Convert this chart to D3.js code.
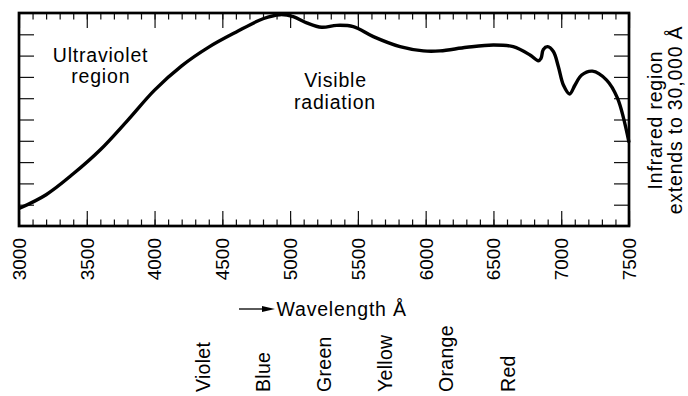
<!DOCTYPE html>
<html>
<head>
<meta charset="utf-8">
<script src="https://cdn.jsdelivr.net/npm/d3@7"></script>
<style>
  html, body { margin: 0; padding: 0; background: #fff; }
  svg { display: block; font-family: "Liberation Sans", Arial, Helvetica, sans-serif; }
</style>
</head>
<body>
<svg id="chart" width="688" height="396"></svg>
<script>
// ---- data ----
const wavelengths = [3000, 3200, 3400, 3600, 3800, 4000, 4200, 4400, 4600, 4800, 4925, 5023, 5122, 5233, 5344, 5466, 5614, 5811, 5983, 6106, 6303, 6499, 6646, 6770, 6831, 6851, 6868, 6900, 6942, 6979, 7016, 7062, 7102, 7151, 7230, 7335, 7415, 7500];
const intensity   = [0.82, 1.47, 2.45, 3.58, 4.95, 6.38, 7.52, 8.40, 9.10, 9.73, 9.92, 9.83, 9.54, 9.33, 9.42, 9.36, 8.89, 8.42, 8.22, 8.22, 8.39, 8.50, 8.42, 8.03, 7.76, 7.87, 8.29, 8.42, 8.19, 7.48, 6.62, 6.20, 6.62, 7.09, 7.27, 6.85, 6.00, 3.92];
const xTicks = [3000, 3500, 4000, 4500, 5000, 5500, 6000, 6500, 7000, 7500];
const xMinor = d3.range(3000, 7501, 100);
const yTicks = [1, 2, 3, 4, 5, 6, 7, 8, 9];
const colorNames = ["Violet", "Blue", "Green", "Yellow", "Orange", "Red"];
const colorPos   = [4357, 4800, 5250, 5700, 6150, 6606];

// ---- layout ----
const svg = d3.select("#chart");
const L = 19, R = 629, T = 13, B = 226;
const x = d3.scaleLinear().domain([3000, 7500]).range([L, R]);
const y = d3.scaleLinear().domain([0, 10]).range([B, T]);

const tickColor = "#111";
// bottom & top ticks (inward)
svg.append("g").attr("transform", `translate(0,${B})`)
  .call(d3.axisBottom(x).tickValues(xMinor).tickSize(-6.5).tickFormat(""))
  .call(g => g.select(".domain").remove());
svg.append("g").attr("transform", `translate(0,${B})`)
  .call(d3.axisBottom(x).tickValues(xTicks).tickSize(-15).tickFormat(""))
  .call(g => g.select(".domain").remove());
svg.append("g").attr("transform", `translate(0,${T})`)
  .call(d3.axisTop(x).tickValues(xMinor).tickSize(-6.5).tickFormat(""))
  .call(g => g.select(".domain").remove());
svg.append("g").attr("transform", `translate(0,${T})`)
  .call(d3.axisTop(x).tickValues(xTicks).tickSize(-15).tickFormat(""))
  .call(g => g.select(".domain").remove());
// left & right ticks
svg.append("g").attr("transform", `translate(${L},0)`)
  .call(d3.axisLeft(y).tickValues(yTicks).tickSize(-15).tickFormat(""))
  .call(g => g.select(".domain").remove());
svg.append("g").attr("transform", `translate(${R},0)`)
  .call(d3.axisRight(y).tickValues(yTicks).tickSize(-15).tickFormat(""))
  .call(g => g.select(".domain").remove());
svg.selectAll(".tick line").attr("stroke", tickColor).attr("stroke-width", 1.2);

// curve
const pts = wavelengths.map((w, i) => [w, intensity[i]]);
svg.append("path")
  .datum(pts)
  .attr("fill", "none")
  .attr("stroke", "#000")
  .attr("stroke-width", 3.4)
  .attr("stroke-linejoin", "round")
  .attr("d", d3.line().x(d => x(d[0])).y(d => y(d[1])).curve(d3.curveCatmullRom.alpha(0.5)));

// frame
svg.append("rect")
  .attr("x", L).attr("y", T).attr("width", R - L).attr("height", B - T)
  .attr("fill", "none").attr("stroke", "#000").attr("stroke-width", 2.7);

// x tick labels (rotated)
svg.append("g").selectAll("text").data(xTicks).join("text")
  .attr("transform", d => `translate(${x(d)},238) rotate(-90)`)
  .attr("text-anchor", "end")
  .attr("dy", "0.36em")
  .attr("font-size", 19)
  .attr("fill", "#000")
  .text(d => d);

const lblSize = 19.5, ls = 0.8;
function label(txt, cx, by, anchor) {
  svg.append("text").attr("x", cx).attr("y", by)
    .attr("text-anchor", anchor || "middle")
    .attr("font-size", lblSize).attr("letter-spacing", ls)
    .attr("fill", "#000").text(txt);
}
label("Ultraviolet", 100.5, 62.3);
label("region", 100.8, 82.5);
label("Visible", 335.5, 86.7);
label("radiation", 335, 108.5);
label("Wavelength Å", 276.5, 316, "start");

// arrow
svg.append("line").attr("x1", 239).attr("y1", 309).attr("x2", 266).attr("y2", 309)
  .attr("stroke", "#000").attr("stroke-width", 1.3);
svg.append("path").attr("d", "M262,306 L275,309 L262,312 Z").attr("fill", "#000");

// right rotated labels
[["Infrared region", 661.5], ["extends to 30,000 Å", 682]].forEach(([t, bx]) => {
  svg.append("text")
    .attr("transform", `translate(${bx},120) rotate(-90)`)
    .attr("text-anchor", "middle")
    .attr("font-size", lblSize).attr("letter-spacing", ls)
    .attr("fill", "#000").text(t);
});

// colour names
svg.append("g").selectAll("text").data(colorNames).join("text")
  .attr("transform", (d, i) => `translate(${x(colorPos[i])},392) rotate(-90)`)
  .attr("text-anchor", "start")
  .attr("dy", "0.36em")
  .attr("font-size", lblSize).attr("letter-spacing", 0.3)
  .attr("fill", "#000")
  .text(d => d);
</script>
</body>
</html>
